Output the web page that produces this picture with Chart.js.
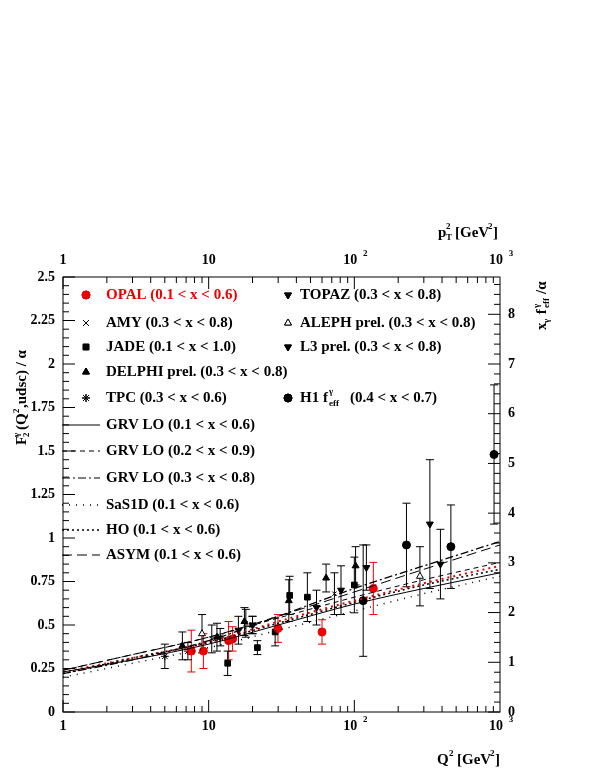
<!DOCTYPE html><html><head><meta charset="utf-8">
<script src="https://cdn.jsdelivr.net/npm/chart.js@4"></script>
<style>body{margin:0;background:#fff}</style></head><body>
<canvas id="c" width="599" height="776"></canvas>
<script>
// data: [Q2, F2/alpha, err]
const opal=[[7.6,0.35,0.12],[9.2,0.35,0.10],[13.7,0.41,0.11],[14.6,0.42,0.07],[29.9,0.48,0.08],[60,0.46,0.07],[135,0.71,0.15]];
const amy=[[10.5,0.42,0.08],[18,0.51,0.08],[73,0.68,0.12]];
const jade=[[13.5,0.28,0.07],[21.6,0.37,0.04],[28.6,0.46,0.08],[36,0.67,0.11],[47.6,0.66,0.14],[100,0.73,0.16]];
const delphi=[[6.6,0.38,0.08],[11.4,0.43,0.08],[17.6,0.52,0.08],[35.5,0.64,0.12],[64,0.77,0.08],[102,0.84,0.11]];
const tpc=[[5,0.32,0.07],[7.2,0.35,0.05],[12,0.43,0.05],[20,0.50,0.05]];
const topaz=[[16,0.47,0.08],[81,0.70,0.14],[121,0.83,0.13],[330,1.08,0.37]];
const aleph=[[9,0.45,0.11],[282,0.78,0.17]];
const l3=[[20,0.50,0.05],[55,0.60,0.10],[390,0.85,0.20]];
const h1=[[115,0.64,0.32],[228,0.96,0.24],[460,0.95,0.24],[910,1.48,0.40]];
const qGrid=[1,3,10,30,100,300,1000];
const grvA=[0.23,0.30,0.39,0.50,0.62,0.71,0.80];
const grvB=[0.24,0.33,0.43,0.54,0.66,0.76,0.86];
const grvC=[0.22,0.30,0.41,0.55,0.71,0.84,0.98];
const sas=[0.20,0.28,0.37,0.47,0.58,0.68,0.78];
const ho=[0.22,0.31,0.40,0.51,0.63,0.73,0.82];
const asym=[0.24,0.33,0.43,0.55,0.69,0.82,0.96];
const red=[0.23,0.31,0.40,0.52,0.64,0.74,0.84];
const xTicks=[1,10,100,1000];
const yTicks=[0,0.25,0.5,0.75,1,1.25,1.5,1.75,2,2.25,2.5];
const rTicks=[0,1,2,3,4,5,6,7,8];
const RMAX=8.75;

const P=a=>a.map(p=>({x:p[0],y:p[1],e:p[2]}));
const C=(v)=>qGrid.map((q,i)=>({x:q,y:v[i]}));
function pts(label,d,style,color,fill,rot,r){return {type:'scatter',label,data:P(d),pointStyle:style,pointRotation:rot||0,pointRadius:r||4,backgroundColor:fill,borderColor:color,borderWidth:1,err:true};}
function line(label,v,dash,color,w){return {type:'line',label,data:C(v),borderColor:color||'#000',borderWidth:w||1,borderDash:dash,pointRadius:0,fill:false,cubicInterpolationMode:'monotone'};}
const F='bold 15px "Liberation Serif"',T='bold 14px "Liberation Serif"',S='bold 9px "Liberation Serif"';
const plug={id:'p',
beforeDatasetsDraw(ch){const c=ch.ctx,x=ch.scales.x,y=ch.scales.y;c.save();
 ch.data.datasets.forEach(ds=>{if(!ds.err)return;c.strokeStyle=ds.borderColor=='#e00'?'#e00':'#000';c.lineWidth=1;
 ds.data.forEach(p=>{const px=x.getPixelForValue(p.x),a=y.getPixelForValue(p.y-p.e),b=y.getPixelForValue(p.y+p.e);
 c.beginPath();c.moveTo(px,a);c.lineTo(px,b);c.moveTo(px-4,a);c.lineTo(px+4,a);c.moveTo(px-4,b);c.lineTo(px+4,b);c.stroke();});});c.restore();},
afterDraw(ch){const c=ch.ctx,x=ch.scales.x,y=ch.scales.y,A=ch.chartArea;c.save();c.strokeStyle='#000';c.fillStyle='#000';c.lineWidth=1;
 c.strokeRect(A.left,A.top,A.right-A.left,A.bottom-A.top);
 const H=A.bottom-A.top;
 c.beginPath();
 for(let d=1;d<1000;d*=10)for(let k=1;k<10;k++){const px=x.getPixelForValue(d*k);const L=k==1?12:6;c.moveTo(px,A.bottom);c.lineTo(px,A.bottom-L);c.moveTo(px,A.top);c.lineTo(px,A.top+L);}
 for(let i=0;i<=50;i++){const v=i*0.05;const py=y.getPixelForValue(v);const L=i%5==0?12:6;c.moveTo(A.left,py);c.lineTo(A.left+L,py);}
 for(let i=0;i*0.2<=RMAX;i++){const v=i*0.2;const py=A.bottom-H*v/RMAX;const L=i%5==0?12:6;c.moveTo(A.right,py);c.lineTo(A.right-L,py);}
 c.stroke();
 c.font=T;c.textAlign='right';c.textBaseline='middle';
 yTicks.forEach(v=>c.fillText(String(v),A.left-8,y.getPixelForValue(v)));
 c.textAlign='left';
 rTicks.forEach(v=>c.fillText(String(v),A.right+8,A.bottom-H*v/RMAX));
 function xl(v,py){const px=x.getPixelForValue(v);c.textAlign='center';
  if(v<100)c.fillText(String(v),px,py);else{c.fillText('10',px-4,py);c.font=S;c.fillText(v==100?'2':'3',px+11,py-6);c.font=T;}}
 xTicks.forEach(v=>{xl(v,A.bottom+14);xl(v,A.top-17);});
 c.font=F;c.textAlign='left';
 c.fillText('Q',437,760);c.font=S;c.fillText('2',449,754);c.font=F;c.fillText('[GeV',457,760);c.font=S;c.fillText('2',490,754);c.font=F;c.fillText(']',495,760);
 c.fillText('p',438,233);c.font=S;c.fillText('2',446,227);c.fillText('T',446,238);c.font=F;c.fillText('[GeV',455,233);c.font=S;c.fillText('2',488,227);c.font=F;c.fillText(']',493,233);
 c.save();c.translate(22,445);c.rotate(-Math.PI/2);c.fillText('F',0,0);c.font=S;c.fillText('2',8,5);c.fillText('γ',8,-5);c.font=F;c.fillText('(Q',15,0);c.font=S;c.fillText('2',32,-5);c.font=F;c.fillText(',udsc) / α',37,0);c.restore();
 c.save();c.translate(542,330);c.rotate(-Math.PI/2);c.fillText('x',0,0);c.font=S;c.fillText('γ',7,5);c.font=F;c.fillText(' f',12,0);c.font=S;c.fillText('γ',22,-5);c.fillText('eff',22,5);c.font=F;c.fillText('/α',36,0);c.restore();
 function mk(st,px,py,fill,rot){c.save();c.fillStyle=fill;c.strokeStyle=fill=='#fff'?'#000':fill;Chart.helpers.drawPoint(c,{pointStyle:st,radius:4,rotation:rot||0,borderWidth:1},px,py);c.fill();c.stroke();c.restore();}
 const L=[['OPAL (0.1 < x < 0.6)',295,'circle','#e00','#e00'],['AMY (0.3 < x < 0.8)',323,'crossRot','#000','#000'],['JADE (0.1 < x < 1.0)',347,'rect','#000','#000'],['DELPHI prel. (0.3 < x < 0.8)',372,'triangle','#000','#000'],['TPC (0.3 < x < 0.6)',398,'star','#000','#000']];
 L.forEach(l=>{c.font=F;c.fillStyle=l[3];c.fillText(l[0],106,l[1]);mk(l[2],86,l[1],l[4]);});
 const R=[['TOPAZ (0.3 < x < 0.8)',295,'triangle','#000',180],['ALEPH prel. (0.3 < x < 0.8)',323,'triangle','#fff',0],['L3 prel. (0.3 < x < 0.8)',347,'triangle','#000',180]];
 R.forEach(l=>{c.font=F;c.fillStyle='#000';c.fillText(l[0],300,l[1]);mk(l[2],288,l[1],l[3],l[4]);});
 c.fillStyle='#000';c.font=F;c.fillText('H1 f',300,398);c.font=S;c.fillText('γ',329,392);c.fillText('eff',329,404);c.font=F;c.fillText('(0.4 < x < 0.7)',350,398);mk('circle',288,398,'#000');
 const LL=[['GRV LO (0.1 < x < 0.6)',425,[]],['GRV LO (0.2 < x < 0.9)',451,[5,4]],['GRV LO (0.3 < x < 0.8)',478,[8,3,2,3]],['SaS1D (0.1 < x < 0.6)',505,[1,6]],['HO (0.1 < x < 0.6)',530,[2,3]],['ASYM (0.1 < x < 0.6)',555,[10,5]]];
 LL.forEach(l=>{c.font=F;c.fillStyle='#000';c.fillText(l[0],106,l[1]);c.beginPath();c.setLineDash(l[2]);c.moveTo(62,l[1]);c.lineTo(100,l[1]);c.lineWidth=l[2][0]<=2&&l[2].length?1.5:1;c.stroke();c.setLineDash([]);});
 c.restore();}};
new Chart(document.getElementById('c'),{data:{datasets:[
 line('a',grvA,[]),line('b',grvB,[5,4]),line('c',grvC,[8,3,2,3],'#000',1.3),line('s',sas,[1,6],'#000',1.5),line('h',ho,[2,3],'#000',1.5),line('as',asym,[10,5]),line('r',red,[2,4],'#e00',2),
 pts('OPAL',opal,'circle','#e00','#e00'),pts('AMY',amy,'crossRot','#000','#000',0,3),pts('JADE',jade,'rect','#000','#000'),pts('DELPHI',delphi,'triangle','#000','#000'),
 pts('TPC',tpc,'star','#000','#000'),pts('TOPAZ',topaz,'triangle','#000','#000',180),pts('ALEPH',aleph,'triangle','#000','#fff'),pts('L3',l3,'triangle','#000','#000',180),pts('H1',h1,'circle','#000','#000')]},
 options:{responsive:false,animation:false,layout:{padding:{left:55,right:99,top:277,bottom:56}},
 plugins:{legend:{display:false},tooltip:{enabled:false}},
 scales:{x:{type:'logarithmic',min:1,max:1000,ticks:{display:false},grid:{display:false},border:{display:false}},
 y:{min:0,max:2.5,ticks:{display:false},grid:{display:false},border:{display:false}}}},plugins:[plug]});
</script></body></html>
